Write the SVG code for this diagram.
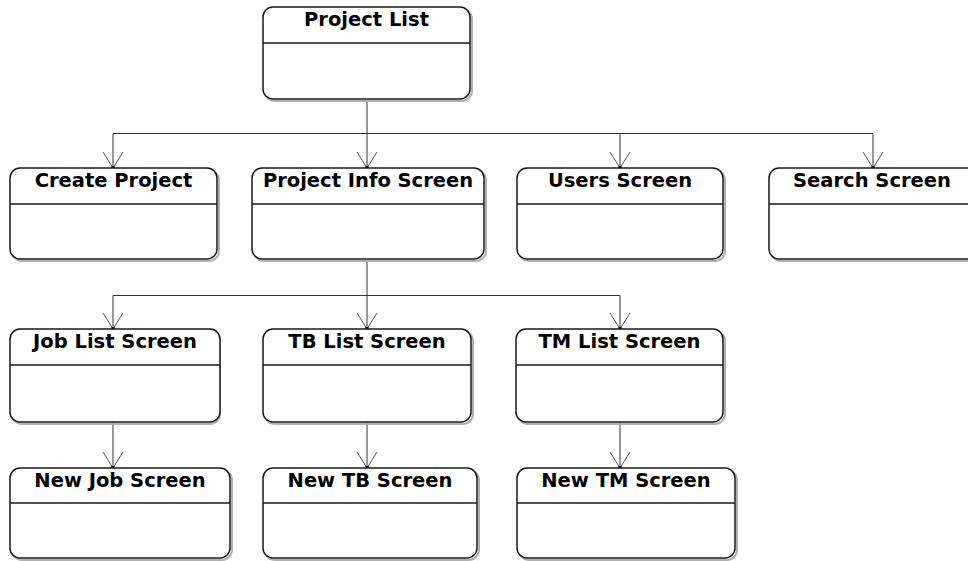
<svg xmlns="http://www.w3.org/2000/svg" width="968" height="561" viewBox="0 0 968 561">
<defs>
<style>
.sh{fill:none;stroke:#b0b0b0;stroke-width:2}
.bx{fill:#fff;stroke:#181818;stroke-width:1.5}
.dv{stroke:#181818;stroke-width:1.5}
.t{font-family:"DejaVu Sans",sans-serif;font-weight:bold;font-size:19.5px;fill:#000;text-anchor:middle}
.c{fill:none;stroke:#333;stroke-width:1}
.ah{fill:none;stroke:#555;stroke-width:1}
</style>
</defs>
<rect width="968" height="561" fill="#fff"/>
<g id="connectors">
<path class="c" d="M367 100V133.5M113 133.5H873M113 133.5V168M367 133.5V168M620 133.5V168M873 133.5V168"/>
<path class="c" d="M367 260V295.5M113 295.5H620M113 295.5V329M367 295.5V329M620 295.5V329"/>
<path class="c" d="M113 422V468M367 422V468M620 422V468"/>
<g class="ah">
<path d="M103 152L113 168L123 152M357 152L367 168L377 152M610 152L620 168L630 152M863 152L873 168L883 152"/>
<path d="M103 313L113 329L123 313M357 313L367 329L377 313M610 313L620 329L630 313"/>
<path d="M103 452L113 468L123 452M357 452L367 468L377 452M610 452L620 468L630 452"/>
</g>
<g fill="#000">
<rect x="111.5" y="166" width="3" height="3"/><rect x="365.5" y="166" width="3" height="3"/><rect x="618.5" y="166" width="3" height="3"/><rect x="871.5" y="166" width="3" height="3"/>
<rect x="111.5" y="327" width="3" height="3"/><rect x="365.5" y="327" width="3" height="3"/><rect x="618.5" y="327" width="3" height="3"/>
<rect x="111.5" y="466" width="3" height="3"/><rect x="365.5" y="466" width="3" height="3"/><rect x="618.5" y="466" width="3" height="3"/>
</g>
</g>
<g id="project-list">
<rect class="sh" x="265" y="9" width="207" height="92" rx="10"/>
<rect class="bx" x="263" y="7" width="207" height="92" rx="10"/>
<line class="dv" x1="263" y1="43" x2="470" y2="43"/>
<text class="t" x="366.5" y="26">Project List</text>
</g>
<g id="create-project">
<rect class="sh" x="12" y="170" width="207" height="91" rx="10"/>
<rect class="bx" x="10" y="168" width="207" height="91" rx="10"/>
<line class="dv" x1="10" y1="204" x2="217" y2="204"/>
<text class="t" x="113.5" y="187">Create Project</text>
</g>
<g id="project-info-screen">
<rect class="sh" x="254" y="170" width="232" height="91" rx="10"/>
<rect class="bx" x="252" y="168" width="232" height="91" rx="10"/>
<line class="dv" x1="252" y1="204" x2="484" y2="204"/>
<text class="t" x="368" y="187">Project Info Screen</text>
</g>
<g id="users-screen">
<rect class="sh" x="519" y="170" width="206" height="91" rx="10"/>
<rect class="bx" x="517" y="168" width="206" height="91" rx="10"/>
<line class="dv" x1="517" y1="204" x2="723" y2="204"/>
<text class="t" x="620" y="187">Users Screen</text>
</g>
<g id="search-screen">
<rect class="sh" x="771" y="170" width="208" height="91" rx="10"/>
<rect class="bx" x="769" y="168" width="208" height="91" rx="10"/>
<line class="dv" x1="769" y1="204" x2="977" y2="204"/>
<text class="t" x="872" y="187">Search Screen</text>
</g>
<g id="job-list-screen">
<rect class="sh" x="12" y="331" width="208" height="93" rx="10"/>
<rect class="bx" x="10" y="329" width="210" height="93" rx="10"/>
<line class="dv" x1="10" y1="365" x2="220" y2="365"/>
<text class="t" x="115" y="348">Job List Screen</text>
</g>
<g id="tb-list-screen">
<rect class="sh" x="265" y="331" width="208" height="93" rx="10"/>
<rect class="bx" x="263" y="329" width="208" height="93" rx="10"/>
<line class="dv" x1="263" y1="365" x2="471" y2="365"/>
<text class="t" x="367" y="348">TB List Screen</text>
</g>
<g id="tm-list-screen">
<rect class="sh" x="518" y="331" width="207" height="93" rx="10"/>
<rect class="bx" x="516" y="329" width="207" height="93" rx="10"/>
<line class="dv" x1="516" y1="365" x2="723" y2="365"/>
<text class="t" x="619.5" y="348">TM List Screen</text>
</g>
<g id="new-job-screen">
<rect class="sh" x="12" y="470" width="220" height="90" rx="10"/>
<rect class="bx" x="10" y="468" width="220" height="90" rx="10"/>
<line class="dv" x1="10" y1="503" x2="230" y2="503"/>
<text class="t" x="120" y="487">New Job Screen</text>
</g>
<g id="new-tb-screen">
<rect class="sh" x="265" y="470" width="214" height="90" rx="10"/>
<rect class="bx" x="263" y="468" width="214" height="90" rx="10"/>
<line class="dv" x1="263" y1="503" x2="477" y2="503"/>
<text class="t" x="370" y="487">New TB Screen</text>
</g>
<g id="new-tm-screen">
<rect class="sh" x="519" y="470" width="218" height="90" rx="10"/>
<rect class="bx" x="517" y="468" width="218" height="90" rx="10"/>
<line class="dv" x1="517" y1="503" x2="735" y2="503"/>
<text class="t" x="626" y="487">New TM Screen</text>
</g>
</svg>
